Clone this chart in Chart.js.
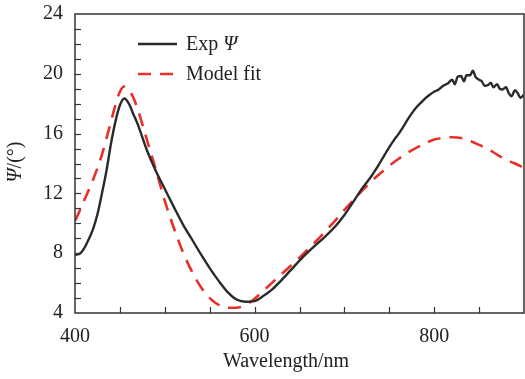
<!DOCTYPE html>
<html><head><meta charset="utf-8">
<script src="https://cdn.jsdelivr.net/npm/chart.js@4/dist/chart.umd.min.js"></script>
<style>html,body{margin:0;padding:0;background:#fff}#w{width:525px;height:379px}</style>
</head><body><div id="w"><canvas id="c" width="525" height="379"></canvas></div>
<script>
const expWavelength = [400,405,410,415,420,425,430,435,440,445,450,455,460,465,470,480,490,500,510,520,530,540,550,560,570,580,590,600,610,620,630,640,650,660,670,680,690,700,710,720,725,730,735,740,745,750,755,760,765,770,775,780,785,790,795,800,805,810,815,820,823,826,830,833,836,840,843,846,850,853,856,860,863,866,870,873,876,880,883,886,890,893,896,900];
const expPsi = [7.9,7.95,8.3,8.9,9.6,10.6,12.0,13.5,15.3,16.8,17.9,18.35,18.0,17.3,16.6,14.9,13.5,12.3,11.1,9.95,8.95,7.95,7.0,6.15,5.4,4.9,4.75,4.8,5.15,5.6,6.2,6.85,7.5,8.1,8.65,9.2,9.8,10.55,11.45,12.35,12.75,13.15,13.6,14.1,14.6,15.1,15.55,15.95,16.4,16.9,17.35,17.75,18.05,18.35,18.6,18.8,18.95,19.2,19.35,19.6,19.3,19.8,19.85,19.5,19.9,19.9,20.2,19.8,19.6,19.5,19.2,19.25,19.4,19.1,19.3,19.0,18.95,19.1,18.7,18.5,18.9,18.7,18.4,18.6];
const modelWavelength = [400,405,410,420,430,440,445,450,455,460,465,470,480,490,500,510,520,530,540,550,560,570,580,590,600,610,620,630,640,650,660,670,680,690,700,710,720,730,740,750,760,770,780,790,800,810,820,830,840,850,860,870,880,890,900];
const modelPsi = [10.15,10.8,11.5,12.9,14.6,16.8,17.9,18.8,19.15,18.95,18.4,17.6,15.6,13.6,11.5,9.7,8.1,6.8,5.75,5.0,4.55,4.35,4.35,4.55,4.95,5.5,6.05,6.6,7.15,7.7,8.3,8.9,9.55,10.2,10.9,11.55,12.2,12.8,13.35,13.85,14.3,14.7,15.05,15.35,15.6,15.72,15.76,15.7,15.5,15.25,14.95,14.6,14.25,14.0,13.7];
const xTickLabels = [400,600,800];
const yTickLabels = [4,8,12,16,20,24];
const seriesNames = ['Exp ', 'Model fit'];

const FONT = "'Liberation Serif','Times New Roman',serif";
const AXIS = '#333';

const decor = {
  id: 'decor',
  afterDraw(chart) {
    const ctx = chart.ctx, a = chart.chartArea;
    const xs = chart.scales.x, ys = chart.scales.y;
    ctx.save();
    ctx.strokeStyle = AXIS; ctx.lineWidth = 1.5;
    ctx.strokeRect(a.left, a.top, a.right - a.left, a.bottom - a.top);
    ctx.lineWidth = 1.2;
    for (let v = 450; v < 900; v += 50) {
      const p = Math.round(xs.getPixelForValue(v)) + 0.5;
      ctx.beginPath(); ctx.moveTo(p, a.bottom); ctx.lineTo(p, a.bottom - 6); ctx.stroke();
    }
    for (let v = 5; v < 24; v += 1) {
      const p = Math.round(ys.getPixelForValue(v)) + 0.5;
      ctx.beginPath(); ctx.moveTo(a.left, p); ctx.lineTo(a.left + 6, p); ctx.stroke();
    }
    // axis titles
    ctx.fillStyle = '#222';
    ctx.font = '20px ' + FONT;
    ctx.textAlign = 'center'; ctx.textBaseline = 'middle';
    ctx.fillText('Wavelength/nm', 286, 362);
    ctx.save();
    ctx.translate(16, 162); ctx.rotate(-Math.PI / 2);
    ctx.font = 'italic 20px ' + FONT;
    const w1 = ctx.measureText('Ψ').width;
    ctx.font = '20px ' + FONT;
    const w2 = ctx.measureText('/(°)').width;
    let sx = -(w1 + w2) / 2;
    ctx.textAlign = 'left';
    ctx.font = 'italic 20px ' + FONT; ctx.fillText('Ψ', sx, 0);
    ctx.font = '20px ' + FONT; ctx.fillText('/(°)', sx + w1, 0);
    ctx.restore();
    // legend
    const rows = [44, 74];
    chart.data.datasets.forEach((ds, i) => {
      const y = rows[i];
      ctx.strokeStyle = ds.borderColor; ctx.lineWidth = ds.borderWidth;
      ctx.setLineDash(ds.borderDash || []);
      ctx.beginPath(); ctx.moveTo(138, y); ctx.lineTo(177, y); ctx.stroke();
      ctx.setLineDash([]);
      ctx.fillStyle = '#222'; ctx.textAlign = 'left'; ctx.textBaseline = 'middle';
      ctx.font = '20px ' + FONT;
      ctx.fillText(seriesNames[i], 186, y + 1);
      if (i === 0) {
        const w = ctx.measureText(seriesNames[i]).width;
        ctx.font = 'italic 20px ' + FONT;
        ctx.fillText('Ψ', 186 + w, y + 1);
      }
    });
    ctx.restore();
  }
};

new Chart(document.getElementById('c'), {
  type: 'line',
  data: {
    datasets: [
      { label: 'Exp Ψ', data: expWavelength.map((x, i) => ({x, y: expPsi[i]})),
        borderColor: '#2a2a2a', borderWidth: 2.4, pointRadius: 0, cubicInterpolationMode: 'monotone', fill: false },
      { label: 'Model fit', data: modelWavelength.map((x, i) => ({x, y: modelPsi[i]})),
        borderColor: '#e8302a', borderWidth: 2.6, borderDash: [13, 9], pointRadius: 0,
        cubicInterpolationMode: 'monotone', fill: false }
    ]
  },
  options: {
    responsive: false, animation: false, devicePixelRatio: 1,
    layout: { padding: { top: 14, right: 1, left: 0, bottom: 0 } },
    plugins: { legend: { display: false }, tooltip: { enabled: false } },
    scales: {
      x: { type: 'linear', min: 400, max: 900,
        grid: { display: false, drawTicks: false }, border: { display: false },
        afterBuildTicks: s => { s.ticks = xTickLabels.map(v => ({ value: v })); },
        afterFit: s => { s.height = 66; s.paddingLeft = 0; s.paddingRight = 0; },
        ticks: { autoSkip: false, maxRotation: 0, padding: 12, color: '#222', font: { family: FONT, size: 20 } } },
      y: { type: 'linear', min: 4, max: 24,
        grid: { display: false, drawTicks: false }, border: { display: false },
        afterBuildTicks: s => { s.ticks = yTickLabels.map(v => ({ value: v })); },
        afterFit: s => { s.width = 75; s.paddingTop = 0; s.paddingBottom = 0; },
        ticks: { autoSkip: false, padding: 12, color: '#222', font: { family: FONT, size: 20 } } }
    }
  },
  plugins: [decor]
});
</script></body></html>
